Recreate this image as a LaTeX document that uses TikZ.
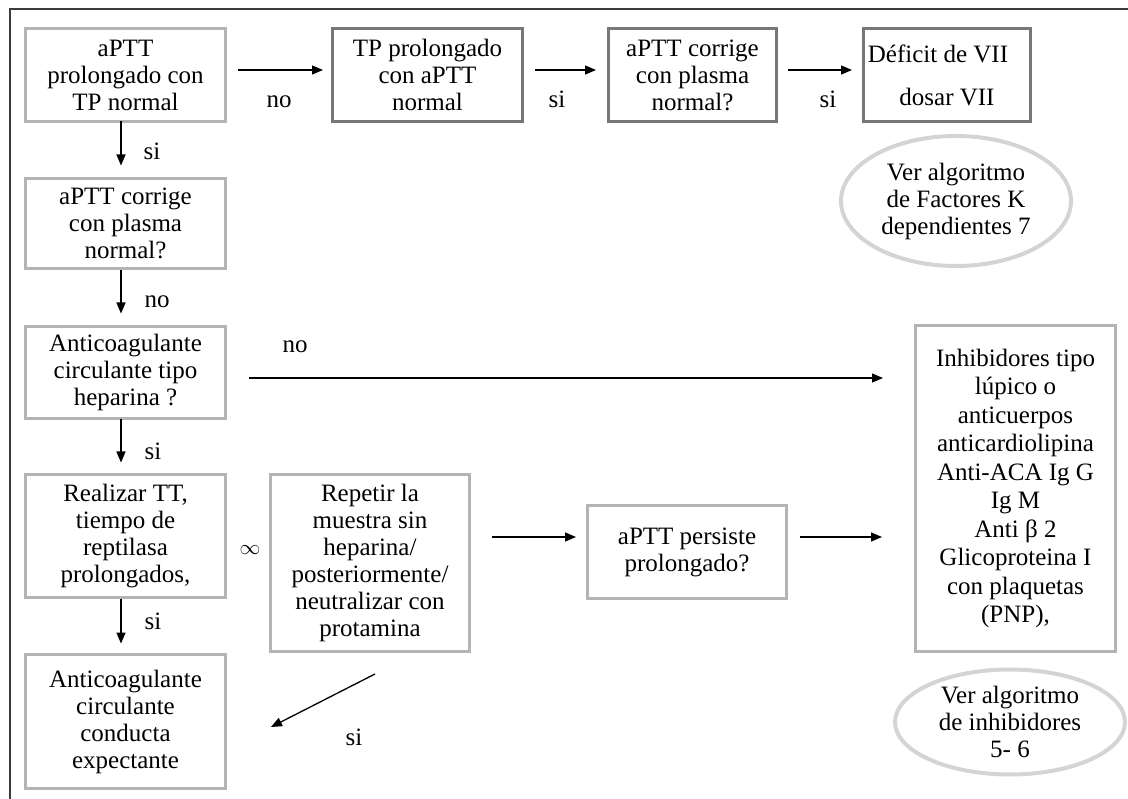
\documentclass[tikz,border=0pt]{standalone}
\usepackage{fontspec}
\setmainfont{Liberation Serif}
\usetikzlibrary{arrows.meta,shapes.geometric}

\definecolor{boxlight}{HTML}{B4B4B6}
\definecolor{boxdark}{HTML}{777777}
\definecolor{ovalgray}{HTML}{D4D4D6}
\definecolor{framegray}{HTML}{3C3C3C}

\tikzset{
  txt/.style={font=\fontsize{25}{27}\selectfont, align=center},
  lightbox/.style={txt, draw=boxlight, line width=3.2pt, inner sep=0pt, outer sep=0pt},
  darkbox/.style={lightbox, draw=boxdark},
  oval/.style={txt, ellipse, draw=ovalgray, line width=4pt, inner sep=0pt, outer sep=0pt},
  arr/.style={line width=1.3pt, -{Triangle[length=11pt,width=9pt]}},
  lbl/.style={font=\fontsize{25}{27}\selectfont, anchor=base, inner sep=0pt},
  frameline/.style={draw=framegray, line width=1.6pt},
}

\begin{document}
\begin{tikzpicture}[x=1pt, y=-1pt]
\useasboundingbox (0,0) rectangle (1128,799);

% page frame (top and left rules)
\draw[frameline] (10,799) -- (10,9) -- (1128,9);

% top row
\node[lightbox, minimum width=200pt, minimum height=93pt] (A) at (125.5,75)
  {aPTT\\prolongado con\\TP normal};
\node[darkbox, minimum width=190pt, minimum height=93pt] (B) at (427.5,75)
  {TP prolongado\\con aPTT\\normal};
\node[darkbox, minimum width=168pt, minimum height=93pt] (C) at (692.5,75)
  {aPTT corrige\\con plasma\\normal?};
\node[darkbox, minimum width=167pt, minimum height=93pt] (D) at (947,75)
  {\hspace*{-18pt}Déficit de VII\\[16pt]dosar VII};
\node[oval, minimum width=230pt, minimum height=130pt] (K7) at (956,201)
  {Ver algoritmo\\de Factores K\\dependientes 7};

% left column
\node[lightbox, minimum width=200pt, minimum height=90pt] (E) at (125.5,223.5)
  {aPTT corrige\\con plasma\\normal?};
\node[lightbox, minimum width=200pt, minimum height=92pt] (F) at (125.5,372.5)
  {Anticoagulante\\circulante tipo\\heparina ?};
\node[lightbox, minimum width=200pt, minimum height=123pt] (G) at (125.5,536)
  {Realizar TT,\\tiempo de\\reptilasa\\prolongados,};
\node[lightbox, minimum width=200pt, minimum height=134pt] (H) at (125.5,721.5)
  {Anticoagulante\\circulante\\conducta\\expectante};

% middle and right
\node[lightbox, minimum width=199pt, minimum height=177pt] (J) at (370,563)
  {Repetir la\\muestra sin\\heparina/\\posteriormente/\\neutralizar con\\protamina};
\node[lightbox, minimum width=199pt, minimum height=93pt] (K) at (687,552)
  {aPTT persiste\\prolongado?};
\node[lightbox, minimum width=200pt, minimum height=326pt,
      font=\fontsize{25}{28.5}\selectfont] (I) at (1015.5,488.5)
  {Inhibidores tipo\\lúpico o\\anticuerpos\\anticardiolipina\\Anti-ACA Ig G\\Ig M\\
   Anti β 2\\Glicoproteina I\\con plaquetas\\(PNP),};
\node[oval, minimum width=230pt, minimum height=105pt] (I56) at (1010,722)
  {Ver algoritmo\\de inhibidores\\5- 6};

% connectors
\draw[arr, shorten <=12.5pt, shorten >=9.5pt] ([yshift=5pt]A.east) -- ([yshift=5pt]B.west);
\draw[arr, shorten <=12.5pt, shorten >=12.5pt] ([yshift=5pt]B.east) -- ([yshift=5pt]C.west);
\draw[arr, shorten <=11.5pt, shorten >=11.5pt] ([yshift=5pt]C.east) -- ([yshift=5pt]D.west);

\draw[arr, shorten >=13pt] ([xshift=-4.5pt]A.south) -- ([xshift=-4.5pt]E.north);
\draw[arr, shorten <=2pt, shorten >=13pt] ([xshift=-4.5pt]E.south) -- ([xshift=-4.5pt]F.north);
\draw[arr, shorten <=1pt, shorten >=12pt] ([xshift=-4.5pt]F.south) -- ([xshift=-4.5pt]G.north);
\draw[arr, shorten <=1pt, shorten >=11pt] ([xshift=-4.5pt]G.south) -- ([xshift=-4.5pt]H.north);

\draw[arr, shorten <=23.5pt, shorten >=32.5pt] ([yshift=-5.5pt]F.east) -- ([yshift=-5.5pt]F.east -| I.west);
\draw[arr, shorten <=22.5pt, shorten >=11.5pt] ([yshift=26pt]J.east) -- ([yshift=26pt]J.east -| K.west);
\draw[arr, shorten <=13.5pt, shorten >=33.5pt] ([yshift=15pt]K.east) -- ([yshift=15pt]K.east -| I.west);
\draw[arr] ([shift={(5pt,-22.5pt)}]J.south) -- ([shift={(45.5pt,-5.5pt)}]H.east);

% connector labels
\node[lbl] (l1) at (279,108) {no};
\node[lbl] (l2) at (557,108) {si};
\node[lbl] (l3) at (828,108) {si};
\node[lbl] (l4) at (152,160) {si};
\node[lbl] (l5) at (157,308) {no};
\node[lbl] (l6) at (295,353) {no};
\node[lbl] (l7) at (153,460) {si};
\node[lbl] (l8) at (153,629) {si};
\node[lbl] (l9) at (354,745) {si};
\node[font=\fontsize{20}{22}\selectfont, inner sep=0pt] (inf) at (250,550) {$\infty$};
\end{tikzpicture}
\end{document}
